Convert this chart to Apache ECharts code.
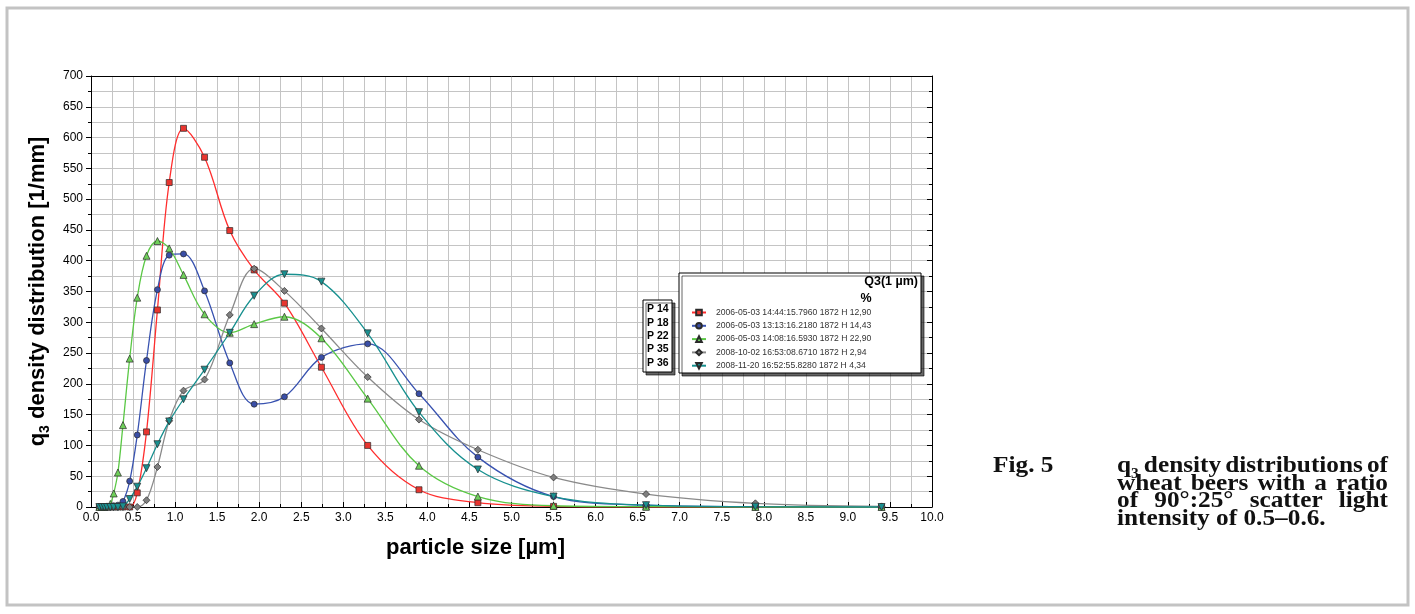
<!DOCTYPE html>
<html><head><meta charset="utf-8">
<script src="https://cdn.jsdelivr.net/npm/echarts@6/dist/echarts.min.js"></script>
<style>html,body{margin:0;padding:0;background:#fff;} #c{width:1415px;height:614px;}</style>
</head><body><div id="c"></div>
<script>
// particle size classes [µm]
const sizes = [0.10,0.13,0.16,0.19,0.23,0.27,0.32,0.38,0.46,0.55,0.66,0.79,0.93,1.10,1.35,1.65,1.94,2.30,2.74,3.29,3.90,4.60,5.50,6.60,7.90,9.40];
// q3 density [1/mm]
const p14 = [0,0,0,0,0,0,0,0,0,23,122,320,527,615,568,449,385,331,227,100,28,7,1,0,0,0];
const p18 = [0,0,0,0,1,2,3,9,42,117,238,353,409,411,351,234,167,179,243,265,184,81,17,3,0.5,0];
const p22 = [0,0,0,1,5,22,56,133,241,340,408,432,420,377,313,283,297,309,274,176,67,17,2,0.5,0,0];
const p35 = [0,0,0,0,0,0,0,0,0,0,11,65,140,189,207,312,387,351,290,211,142,93,48,21,6,1];
const p36 = [0,0,0,0,0,0,0,1,13,33,63,102,139,175,223,283,343,378,366,282,154,61,17,3,0.5,0];
const seriesNames = [
  '2006-05-03 14:44:15.7960 1872 H 12,90',
  '2006-05-03 13:13:16.2180 1872 H 14,43',
  '2006-05-03 14:08:16.5930 1872 H 22,90',
  '2008-10-02 16:53:08.6710 1872 H 2,94',
  '2008-11-20 16:52:55.8280 1872 H 4,34'
];
const probeLabels = ['P 14','P 18','P 22','P 35','P 36'];
const captionFig = 'Fig. 5';
const captionLines = [
  [{t:'q', sub:'3'}, 'density', 'distributions', 'of'],
  ['wheat', 'beers', 'with', 'a', 'ratio'],
  ['of', '90°:25°', 'scatter', 'light'],
  ['intensity of 0.5–0.6.']
];

const SANS = '"Liberation Sans", Arial, sans-serif';
const SERIF = '"Liberation Serif", "Times New Roman", serif';

function mk(name, data, fill, line, symbol, rot, size) {
  return {
    name: name, type: 'line', data: sizes.map((x, i) => [x, data[i]]),
    smooth: 0.35, symbol: symbol, symbolSize: size || 6, symbolRotate: rot || 0,
    showAllSymbol: true,
    lineStyle: {color: line, width: 1.3},
    itemStyle: {color: fill, borderColor: '#2a2a2a', borderWidth: 0.7},
    emphasis: {disabled: true}
  };
}

// caption layout (justified text)
const ctx = document.createElement('canvas').getContext('2d');
const capSize = 23, subSize = 14;
const capFont = 'bold ' + capSize + 'px ' + SERIF;
const subFont = 'bold ' + subSize + 'px ' + SERIF;
function mw(t, f) { ctx.font = f; return ctx.measureText(t).width; }
const capLeft = 1117, capRight = 1388, capTop = 466, capLH = 17.6;
function natW(w) { return typeof w === 'string' ? mw(w, capFont) : mw(w.t, capFont) + mw(w.sub, subFont) + 1; }
const line1Nat = captionLines[0].reduce((a, w) => a + natW(w), 0);
const sx = (capRight - capLeft - 3 * 4) / line1Nat;
const graphics = [];
graphics.push({type:'text', x: 993, y: capTop, scaleX: sx, z: 50,
  style:{text: captionFig, font: capFont, fill:'#111', verticalAlign:'middle'}});
captionLines.forEach((words, li) => {
  const y = capTop + li * capLH;
  const widths = words.map(w => natW(w) * sx);
  const total = widths.reduce((a, b) => a + b, 0);
  const gap = words.length > 1 ? (capRight - capLeft - total) / (words.length - 1) : 0;
  let x = capLeft;
  words.forEach((w, i) => {
    if (typeof w === 'string') {
      graphics.push({type:'text', x: x, y: y, scaleX: sx, z: 50,
        style:{text: w, font: capFont, fill:'#111', verticalAlign:'middle'}});
    } else {
      graphics.push({type:'text', x: x, y: y, scaleX: sx, z: 50,
        style:{text: w.t, font: capFont, fill:'#111', verticalAlign:'middle'}});
      graphics.push({type:'text', x: x + mw(w.t, capFont) * sx, y: y + 8, scaleX: sx, z: 50,
        style:{text: w.sub, font: subFont, fill:'#111', verticalAlign:'middle'}});
    }
    x += widths[i] + gap;
  });
});

// frame and legend boxes
graphics.push({type:'rect', z: 1, silent: true,
  shape:{x: 7, y: 8, width: 1401, height: 597},
  style:{fill:'none', stroke:'#c3c3c3', lineWidth: 3}});
graphics.push({type:'rect', z: 40,
  shape:{x: 679, y: 273, width: 242, height: 100},
  style:{fill:'#fff', stroke:'#000', lineWidth: 1, shadowColor:'rgba(0,0,0,0.6)', shadowOffsetX: 3, shadowOffsetY: 3, shadowBlur: 0}});
graphics.push({type:'rect', z: 40,
  shape:{x: 643, y: 300, width: 29, height: 72},
  style:{fill:'#fff', stroke:'#000', lineWidth: 1, shadowColor:'rgba(0,0,0,0.6)', shadowOffsetX: 3, shadowOffsetY: 3, shadowBlur: 0}});
graphics.push({type:'text', x: 918, y: 282, z: 45,
  style:{text:'Q3(1 µm)', font:'bold 12.5px ' + SANS, fill:'#000', align:'right', verticalAlign:'middle'}});
graphics.push({type:'text', x: 866, y: 299, z: 45,
  style:{text:'%', font:'bold 12.5px ' + SANS, fill:'#000', align:'center', verticalAlign:'middle'}});
probeLabels.forEach((p, i) => {
  graphics.push({type:'text', x: 647, y: 309.5 + i * 13.3, z: 45,
    style:{text: p, font:'bold 10.5px ' + SANS, fill:'#000', verticalAlign:'middle'}});
});

const gridColor = '#c4c4c4';
const chart = echarts.init(document.getElementById('c'), null, {renderer:'canvas'});
chart.setOption({
  animation: false,
  backgroundColor: '#fff',
  grid: {left: 91, top: 76, right: 483, bottom: 107, containLabel: false},
  xAxis: [{
    type: 'value', min: 0, max: 10, interval: 0.5,
    name: 'particle size [µm]', nameLocation: 'middle', nameGap: 30,
    nameTextStyle: {fontFamily: SANS, fontSize: 22, fontWeight: 'bold', color: '#000', padding: [0, 72, 0, 0]},
    axisLine: {show: true, onZero: false, lineStyle: {color: '#000', width: 1}},
    axisTick: {show: true, inside: true, length: 5, lineStyle: {color: '#000'}},
    minorTick: {show: true, splitNumber: 2, length: 3, lineStyle: {color: '#000'}},
    axisLabel: {fontFamily: SANS, fontSize: 12, color: '#000', margin: 5, formatter: v => v.toFixed(1)},
    splitLine: {show: true, lineStyle: {color: gridColor, width: 1}},
    minorSplitLine: {show: true, lineStyle: {color: gridColor, width: 1}}
  }, {
    type: 'value', min: 0, max: 10, interval: 0.5, position: 'top',
    axisLine: {show: true, onZero: false, lineStyle: {color: '#000', width: 1}},
    axisTick: {show: false}, axisLabel: {show: false}, splitLine: {show: false}
  }],
  yAxis: [{
    type: 'value', min: 0, max: 700, interval: 50,
    name: '{q|q}{s|3}{q| density distribution [1/mm]}', nameLocation: 'middle', nameGap: 38,
    nameTextStyle: {fontFamily: SANS, fontSize: 22, fontWeight: 'bold', color: '#000',
      rich: {
        q: {fontFamily: SANS, fontSize: 22, fontWeight: 'bold', color: '#000', lineHeight: 28, verticalAlign: 'middle'},
        s: {fontFamily: SANS, fontSize: 14, fontWeight: 'bold', color: '#000', lineHeight: 16, verticalAlign: 'bottom'}
      }},
    axisLine: {show: true, onZero: false, lineStyle: {color: '#000', width: 1}},
    axisTick: {show: true, inside: false, length: 5, lineStyle: {color: '#000'}},
    minorTick: {show: true, splitNumber: 2, length: 3, lineStyle: {color: '#000'}},
    axisLabel: {fontFamily: SANS, fontSize: 12, color: '#000', margin: 8},
    splitLine: {show: true, lineStyle: {color: gridColor, width: 1}},
    minorSplitLine: {show: true, lineStyle: {color: gridColor, width: 1}}
  }, {
    type: 'value', min: 0, max: 700, interval: 50, position: 'right',
    axisLine: {show: true, onZero: false, lineStyle: {color: '#000', width: 1}},
    axisTick: {show: true, inside: true, length: 5, lineStyle: {color: '#000'}},
    minorTick: {show: true, splitNumber: 2, length: 3, lineStyle: {color: '#000'}},
    axisLabel: {show: false}, splitLine: {show: false}
  }],
  legend: {
    orient: 'vertical', left: 686, top: 302, itemWidth: 14, itemHeight: 7, itemGap: 2.3,
    selectedMode: false, z: 60,
    textStyle: {fontFamily: SANS, fontSize: 8.6, color: '#333', lineHeight: 11, padding: [0, 0, 0, 5]},
    data: seriesNames
  },
  graphic: graphics,
  series: [
    mk(seriesNames[0], p14, '#e8352f', '#ff2d2d', 'rect', 0, 6),
    mk(seriesNames[1], p18, '#3a4ea6', '#3852b0', 'circle', 0, 6),
    mk(seriesNames[2], p22, '#6fd05a', '#5ac845', 'triangle', 0, 7),
    mk(seriesNames[3], p35, '#7f7f7f', '#8a8a8a', 'diamond', 0, 7),
    mk(seriesNames[4], p36, '#1a9090', '#17908f', 'triangle', 180, 7)
  ]
});
</script></body></html>
